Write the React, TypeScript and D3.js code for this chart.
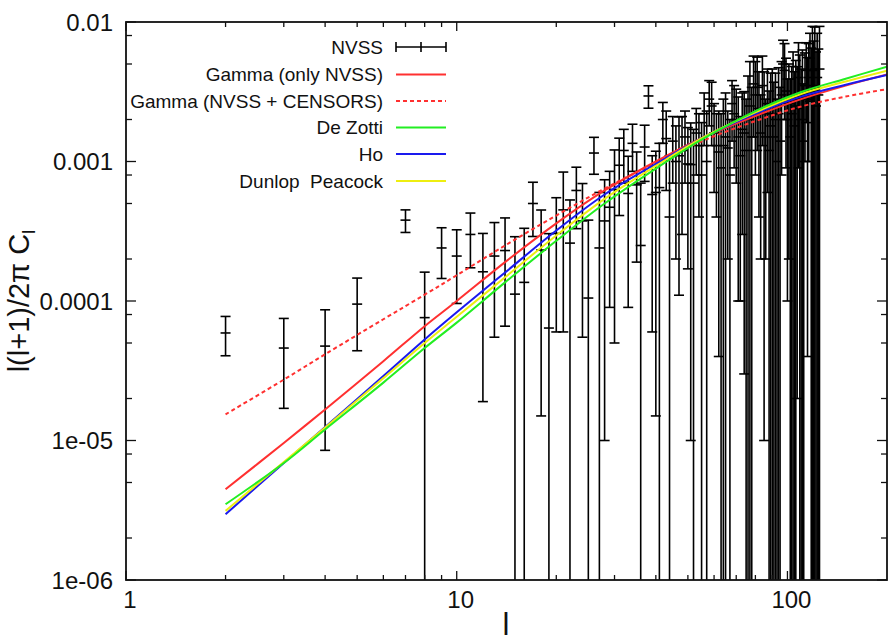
import React from 'react';
import * as d3 from 'd3';

// NVSS measurements: multipole l, l(l+1)C_l/2pi, 1-sigma error
const ells = [2, 3, 4, 5, 7, 8, 9, 10, 11, 12, 13, 14, 15, 16, 17, 18, 19, 20, 21, 22, 23, 24, 25, 26, 27, 28, 29, 30,
  31, 32, 33, 34, 35, 36, 37, 38, 39, 40, 41, 42, 43, 44, 45, 46, 47, 48, 49, 50, 51, 52, 53, 54, 55, 56, 57, 58, 59, 60,
  61, 62, 63, 64, 65, 66, 67, 68, 69, 70, 71, 72, 73, 74, 75, 76, 77, 78, 79, 80, 81, 82, 83, 84, 85, 86, 87, 88, 89, 90,
  91, 92, 93, 94, 95, 96, 97, 98, 99, 100, 101, 102, 103, 104, 105, 106, 107, 108, 109, 110, 111, 112, 113, 114, 115,
  116, 117, 118, 119, 120, 121, 122, 123, 124, 125];
const nvssValues = [5.9e-5, 4.6e-5, 4.75e-5, 9.5e-5, 3.8e-4, 7.6e-5, 2.4e-4, 2.1e-4, 3.0e-4, 1.62e-4, 2.1e-4, 2.3e-4, 1.12e-4,
  1.36e-4, 5.0e-4, 2.32e-4, 6.4e-5, 3.05e-4, 4.5e-4, 2.6e-4, 6.2e-4, 3.75e-4, 1.05e-4, 1.15e-3, 2.4e-4, 3.75e-4, 4.7e-4,
  6.3e-4, 9.4e-4, 1.2e-3, 5.9e-4, 1.35e-3, 6.8e-4, 2.5e-4, 1.27e-3, 2.95e-3, 5.8e-4, 6.0e-4, 6.5e-4, 2.0e-3, 1.46e-3,
  4.0e-4, 1.4e-3, 1.0e-3, 1.1e-3, 1.2e-3, 1.5e-3, 9.6e-4, 9.5e-4, 7.0e-4, 1.6e-3, 1.3e-3, 8.0e-4, 2.2e-3, 1.0e-3, 2.8e-3,
  2.5e-3, 1.6e-3, 1.3e-3, 1.17e-3, 9.0e-4, 1.3e-3, 1.5e-3, 1.25e-3, 8.0e-4, 2.6e-3, 2.2e-3, 2.0e-3, 1.5e-3, 1.1e-3, 1.7e-3,
  1.6e-3, 1.2e-3, 2.0e-3, 2.5e-3, 1.5e-3, 3.6e-3, 3.0e-3, 3.4e-3, 2.4e-3, 1.6e-3, 3.5e-3, 2.2e-3, 1.5e-3, 2.6e-3, 1.2e-3,
  1.8e-3, 2.2e-3, 1.5e-3, 2.0e-3, 1.0e-3, 2.2e-3, 1.4e-3, 3.0e-3, 5.0e-3, 4.5e-3, 3.2e-3, 2.0e-3, 2.6e-3, 1.5e-3, 2.2e-3,
  3.0e-3, 1.8e-3, 2.5e-3, 2.4e-3, 4.0e-3, 2.8e-3, 2.0e-3, 3.0e-3, 1.4e-3, 3.5e-3, 4.5e-3, 2.8e-3, 4.0e-3, 5.5e-3, 3.0e-3,
  4.5e-3, 3.5e-3, 4.6e-3, 2.5e-3, 4.0e-3, 3.0e-3, 4.6e-3];
const nvssErrors = [1.85e-5, 2.9e-5, 3.9e-5, 5.1e-5, 7e-5, 8.5e-5, 9.5e-5, 1.14e-4, 1.27e-4, 1.43e-4, 1.55e-4, 1.64e-4, 1.77e-4,
  1.96e-4, 2.1e-4, 2.17e-4, 2.4e-4, 2.45e-4, 3.9e-4, 2.7e-4, 2.9e-4, 3.2e-4, 2.75e-4, 3.4e-4, 3.6e-4, 3.65e-4, 3.8e-4,
  5.8e-4, 5.3e-4, 5.0e-4, 5.0e-4, 5.0e-4, 4.9e-4, 4.5e-4, 5.5e-4, 5.4e-4, 5.2e-4, 5.85e-4, 7.0e-4, 6.5e-4, 8.4e-4,
  7.0e-4, 7.0e-4, 8.0e-4, 9.9e-4, 9.0e-4, 8.0e-4, 7.9e-4, 9.4e-4, 1.0e-3, 8.0e-4, 9.0e-4, 1.1e-3, 9.0e-4, 1.3e-3, 1.0e-3,
  1.2e-3, 1.0e-3, 9.0e-4, 1.13e-3, 1.3e-3, 1.5e-3, 1.6e-3, 1.05e-3, 1.2e-3, 1.2e-3, 1.3e-3, 1.3e-3, 1.4e-3, 1.0e-3, 1.4e-3,
  1.57e-3, 1.6e-3, 2.1e-3, 2.7e-3, 1.9e-3, 2.1e-3, 2.2e-3, 2.2e-3, 2.0e-3, 1.4e-3, 2.2e-3, 2.19e-3, 1.3e-3, 2.0e-3, 2.0e-3,
  2.5e-3, 2.4e-3, 2.2e-3, 2.3e-3, 1.8e-3, 2.5e-3, 2.0e-3, 2.2e-3, 2.4e-3, 2.5e-3, 2.3e-3, 1.9e-3, 2.4e-3, 2.4e-3, 2.6e-3,
  3.1e-3, 2.6e-3, 2.8e-3, 2.38e-3, 3.1e-3, 3.0e-3, 2.6e-3, 3.3e-3, 2.2e-3, 2.5e-3, 2.6e-3, 2.76e-3, 3.0e-3, 2.8e-3, 3.5e-3,
  4.8e-3, 3.8e-3, 4.6e-3, 3.6e-3, 4.3e-3, 3.4e-3, 4.7e-3];

// Model predictions sampled at these multipoles
const modelEll = [2, 3, 4, 6, 8, 10, 14, 20, 28, 40, 56, 80, 110, 150, 200];
const gammaNvss = [4.47e-6, 9.6e-6, 1.67e-5, 3.7e-5, 6.6e-5, 1.0e-4, 1.9e-4, 3.6e-4, 6.2e-4, 1.0e-3, 1.5e-3, 2.12e-3, 2.8e-3, 3.5e-3, 4.2e-3];
const gammaNvssCensors = [1.54e-5, 2.73e-5, 4.15e-5, 7.4e-5, 1.11e-4, 1.53e-4, 2.5e-4, 4.1e-4, 6.4e-4, 9.8e-4, 1.42e-3, 1.95e-3, 2.48e-3, 2.92e-3, 3.3e-3];
const deZotti = [3.49e-6, 6.9e-6, 1.2e-5, 2.6e-5, 4.6e-5, 7.0e-5, 1.36e-4, 2.7e-4, 5.0e-4, 8.9e-4, 1.47e-3, 2.3e-3, 3.15e-3, 3.92e-3, 4.78e-3];
const ho = [2.96e-6, 6.9e-6, 1.25e-5, 2.9e-5, 5.3e-5, 8.3e-5, 1.6e-4, 3.2e-4, 5.8e-4, 9.6e-4, 1.5e-3, 2.2e-3, 2.92e-3, 3.55e-3, 4.17e-3];
const dunlopPeacock = [3.13e-6, 7.0e-6, 1.24e-5, 2.8e-5, 5.0e-5, 7.7e-5, 1.48e-4, 2.95e-4, 5.4e-4, 9.3e-4, 1.5e-3, 2.25e-3, 3.05e-3, 3.75e-3, 4.48e-3];

const xTickValues = [1, 10, 100];
const xTickLabels = ['1', '10', '100'];
const yTickValues = [1e-6, 1e-5, 1e-4, 1e-3, 1e-2];
const yTickLabels = ['1e-06', '1e-05', '0.0001', '0.001', '0.01'];

const legendLabels = ['NVSS', 'Gamma (only NVSS)', 'Gamma (NVSS + CENSORS)', 'De Zotti', 'Ho', 'Dunlop  Peacock'];

const W = 894, H = 643;
const L = 126, R = 887, T = 22, B = 580;
const FONT = '"Liberation Sans", Arial, Helvetica, sans-serif';
const INK = '#111';

export default function App() {
  const x = d3.scaleLog().domain([1, 200]).range([L, R]);
  const y = d3.scaleLog().domain([1e-6, 1e-2]).range([B, T]);

  const models = [
    { name: legendLabels[1], vals: gammaNvss, color: '#ff3030', dash: undefined as string | undefined },
    { name: legendLabels[2], vals: gammaNvssCensors, color: '#ff3030', dash: '4,3' },
    { name: legendLabels[3], vals: deZotti, color: '#22ee22', dash: undefined },
    { name: legendLabels[4], vals: ho, color: '#1a1aee', dash: undefined },
    { name: legendLabels[5], vals: dunlopPeacock, color: '#eeee10', dash: undefined },
  ];
  const drawOrder = [1, 0, 3, 4, 2].map(i => models[i]);

  const line = d3.line<[number, number]>()
    .x(d => x(d[0]))
    .y(d => y(d[1]))
    .curve(d3.curveCatmullRom.alpha(0.5));

  const xMinor: number[] = [];
  [1, 10, 100].forEach(dec => {
    for (let k = 2; k <= 9; k++) {
      const v = dec * k;
      if (v < 200) xMinor.push(v);
    }
  });
  const yMinor: number[] = [];
  [1e-6, 1e-5, 1e-4, 1e-3].forEach(dec => {
    [2, 5, 8].forEach(k => yMinor.push(dec * k));
  });

  const capHalf = 5;
  const legendRows = [47, 74.5, 101, 127.5, 154, 181];

  return (
    <div style={{ position: 'absolute', left: 0, top: 0 }}>
      <svg width={W} height={H} style={{ display: 'block', background: '#fff' }} fontFamily={FONT}>
        <defs>
          <clipPath id="plotClip">
            <rect x={L} y={T} width={R - L} height={B - T} />
          </clipPath>
        </defs>

        {/* error bars */}
        <g clipPath="url(#plotClip)" stroke="#000" strokeWidth={1.6} fill="none">
          {ells.map((l, i) => {
            const v = nvssValues[i];
            const e = nvssErrors[i];
            const cx = x(l);
            const hi = v + e;
            const lo = v - e;
            const yHi = y(hi);
            const yLo = lo > 0 ? y(lo) : B + 20;
            const yC = y(v);
            return (
              <g key={l}>
                <line x1={cx} x2={cx} y1={yHi} y2={yLo} />
                <line x1={cx - capHalf} x2={cx + capHalf} y1={yHi} y2={yHi} />
                {lo > 0 && <line x1={cx - capHalf} x2={cx + capHalf} y1={yLo} y2={yLo} />}
                <line x1={cx - capHalf} x2={cx + capHalf} y1={yC} y2={yC} />
              </g>
            );
          })}
        </g>

        {/* model curves */}
        <g clipPath="url(#plotClip)" fill="none">
          {drawOrder.map(m => (
            <path
              key={m.name}
              d={line(modelEll.map((l, i) => [l, m.vals[i]] as [number, number])) || ''}
              stroke={m.color}
              strokeWidth={2}
              strokeDasharray={m.dash}
            />
          ))}
        </g>

        {/* frame */}
        <rect x={L} y={T} width={R - L} height={B - T} fill="none" stroke={INK} strokeWidth={1.8} />

        {/* ticks */}
        <g stroke={INK} strokeWidth={1.3}>
          {xTickValues.map(v => (
            <g key={'xM' + v}>
              <line x1={x(v)} x2={x(v)} y1={B} y2={B - 9} />
              <line x1={x(v)} x2={x(v)} y1={T} y2={T + 9} />
            </g>
          ))}
          {xMinor.map(v => (
            <g key={'xm' + v}>
              <line x1={x(v)} x2={x(v)} y1={B} y2={B - 5} />
              <line x1={x(v)} x2={x(v)} y1={T} y2={T + 5} />
            </g>
          ))}
          {yTickValues.map(v => (
            <g key={'yM' + v}>
              <line x1={L} x2={L + 10} y1={y(v)} y2={y(v)} />
              <line x1={R} x2={R - 10} y1={y(v)} y2={y(v)} />
            </g>
          ))}
          {yMinor.map(v => (
            <g key={'ym' + v}>
              <line x1={L} x2={L + 6} y1={y(v)} y2={y(v)} />
              <line x1={R} x2={R - 6} y1={y(v)} y2={y(v)} />
            </g>
          ))}
        </g>

        {/* tick labels */}
        <g fill={INK} fontSize={24}>
          {xTickValues.map((v, i) => (
            <text key={'xl' + v} x={x(v) + 4} y={608} textAnchor="middle">{xTickLabels[i]}</text>
          ))}
          {yTickValues.map((v, i) => (
            <text key={'yl' + v} x={113} y={y(v)} textAnchor="end" dominantBaseline="central">{yTickLabels[i]}</text>
          ))}
        </g>

        {/* axis labels */}
        <text x={506} y={635} textAnchor="middle" fontSize={31} fill={INK}>l</text>
        <text transform="translate(29,301) rotate(-90)" textAnchor="middle" fontSize={29} fill={INK}>
          l(l+1)/2π C<tspan fontSize={19} dy={6}>l</tspan>
        </text>

        {/* legend */}
        <g fontSize={19} fill={INK}>
          {legendLabels.map((lab, i) => (
            <text key={lab} x={383} y={legendRows[i]} textAnchor="end" dominantBaseline="central" style={{ whiteSpace: 'pre' }}>{lab}</text>
          ))}
        </g>
        <g stroke="#000" strokeWidth={1.6}>
          <line x1={396} x2={446} y1={legendRows[0]} y2={legendRows[0]} />
          <line x1={396} x2={396} y1={legendRows[0] - 5} y2={legendRows[0] + 5} />
          <line x1={421} x2={421} y1={legendRows[0] - 5} y2={legendRows[0] + 5} />
          <line x1={446} x2={446} y1={legendRows[0] - 5} y2={legendRows[0] + 5} />
        </g>
        {models.map((m, i) => (
          <line key={'lg' + m.name} x1={396} x2={446} y1={legendRows[i + 1]} y2={legendRows[i + 1]}
            stroke={m.color} strokeWidth={2} strokeDasharray={m.dash} />
        ))}
      </svg>
    </div>
  );
}
